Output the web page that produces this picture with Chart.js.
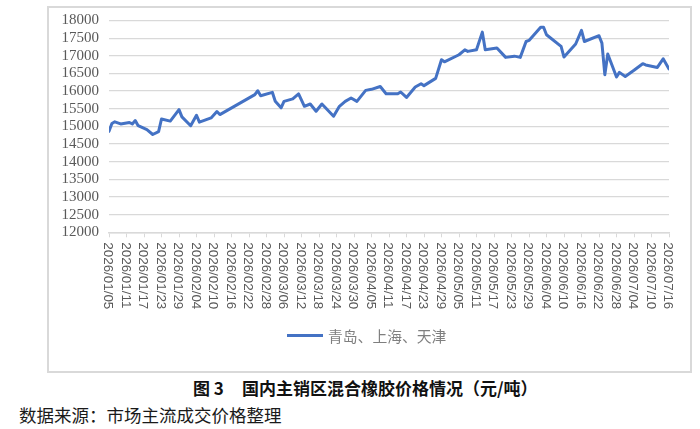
<!DOCTYPE html>
<html>
<head>
<meta charset="utf-8">
<script src="https://cdn.jsdelivr.net/npm/chart.js@4.4.0/dist/chart.umd.min.js"></script>
<style>
  html, body { margin: 0; padding: 0; background: #fff; }
  #wrap { position: relative; width: 700px; height: 429px; overflow: hidden; }
  #box { position: absolute; left: 47px; top: 6px; width: 645px; height: 367px; box-sizing: border-box; border: 2px solid #d9d9d9; }
  #chart { position: absolute; left: 0; top: 0; }
  #legend { position: absolute; left: 287px; top: 324px; height: 22px; display: flex; align-items: center; font-family: "Noto Sans CJK SC", sans-serif; font-size: 14.8px; color: #7f7f7f; white-space: nowrap; }
  #legend .sw { display: inline-block; width: 36px; height: 3px; background: #4472C4; margin-right: 5px; }
  #caption { position: absolute; left: 193px; top: 376px; height: 24px; line-height: 24px; font-family: "Noto Sans CJK SC", sans-serif; font-weight: bold; font-size: 17px; color: #111; white-space: nowrap; }
  #caption .t { position: absolute; left: 49px; top: 0; }
  #source { position: absolute; left: 19px; top: 403px; height: 24px; line-height: 24px; font-family: "Noto Sans CJK SC", sans-serif; font-size: 17.5px; color: #1a1a1a; white-space: nowrap; }
</style>
</head>
<body>
<div id="wrap">
  <div id="box"></div>
  <canvas id="chart" width="700" height="372"></canvas>
  <div id="legend"><span class="sw"></span><span id="legendText"></span></div>
  <div id="caption"><span>图 3</span><span class="t">国内主销区混合橡胶价格情况（元/吨）</span></div>
  <div id="source">数据来源：市场主流成交价格整理</div>
</div>
<script>
const seriesName = '青岛、上海、天津';

const dates = [
  '2026/01/05','2026/01/06','2026/01/07','2026/01/09','2026/01/12','2026/01/13','2026/01/14','2026/01/15',
  '2026/01/18','2026/01/20','2026/01/22','2026/01/23','2026/01/26','2026/01/29','2026/01/30',
  '2026/02/02','2026/02/04','2026/02/05','2026/02/09','2026/02/11','2026/02/12','2026/02/24','2026/02/25','2026/02/26',
  '2026/03/02','2026/03/03','2026/03/05','2026/03/06','2026/03/09','2026/03/11','2026/03/13','2026/03/15','2026/03/17',
  '2026/03/19','2026/03/23','2026/03/25','2026/03/27','2026/03/29','2026/03/31',
  '2026/04/03','2026/04/05','2026/04/08','2026/04/10','2026/04/14','2026/04/15','2026/04/17','2026/04/20','2026/04/22',
  '2026/04/23','2026/04/27','2026/04/29','2026/04/30',
  '2026/05/05','2026/05/07','2026/05/08','2026/05/11','2026/05/13','2026/05/14','2026/05/18','2026/05/21','2026/05/24',
  '2026/05/26','2026/05/28','2026/05/29',
  '2026/06/02','2026/06/03','2026/06/04','2026/06/09','2026/06/10','2026/06/14','2026/06/16','2026/06/17','2026/06/22',
  '2026/06/23','2026/06/24','2026/06/25','2026/06/28','2026/06/29',
  '2026/07/01','2026/07/04','2026/07/07','2026/07/08','2026/07/12','2026/07/14','2026/07/16'
];

const prices = [
  14860,15080,15130,15070,15110,15070,15165,15020,
  14910,14770,14850,15210,15150,15475,15270,
  15020,15315,15120,15240,15420,15335,15900,16010,15870,
  15965,15710,15525,15710,15780,15920,15570,15635,15430,
  15635,15290,15570,15710,15805,15710,
  16020,16050,16130,15925,15925,15975,15820,16115,16210,
  16155,16360,16890,16830,
  17030,17170,17125,17170,17670,17170,17220,16955,16990,
  16955,17405,17435,
  17810,17810,17595,17265,16965,17335,17720,17405,17570,
  17360,16465,17050,16400,16530,
  16415,16590,16775,16740,16670,16915,16625
];

const xTickLabels = [
  '2026/01/05','2026/01/11','2026/01/17','2026/01/23','2026/01/29','2026/02/04','2026/02/10','2026/02/16',
  '2026/02/22','2026/02/28','2026/03/06','2026/03/12','2026/03/18','2026/03/24','2026/03/30','2026/04/05',
  '2026/04/11','2026/04/17','2026/04/23','2026/04/29','2026/05/05','2026/05/11','2026/05/17','2026/05/23',
  '2026/05/29','2026/06/04','2026/06/10','2026/06/16','2026/06/22','2026/06/28','2026/07/04','2026/07/10','2026/07/16'
];

const yMin = 12000, yMax = 18000, yStep = 500;

document.getElementById('legendText').textContent = seriesName;

function dayOf(s) {
  const p = s.split('/').map(Number);
  const b = xTickLabels[0].split('/').map(Number);
  return Math.round((Date.UTC(p[0], p[1] - 1, p[2]) - Date.UTC(b[0], b[1] - 1, b[2])) / 86400000);
}

const points = dates.map((d, i) => ({ x: dayOf(d), y: prices[i] }));

const rotatedXLabels = {
  id: 'rotatedXLabels',
  afterDraw(chart) {
    const sc = chart.scales.x;
    const ctx = chart.ctx;
    ctx.save();
    ctx.font = '13.4px "Liberation Sans", Arial, sans-serif';
    ctx.fillStyle = '#595959';
    ctx.textAlign = 'left';
    ctx.textBaseline = 'middle';
    xTickLabels.forEach(l => {
      const x = sc.getPixelForValue(dayOf(l));
      ctx.save();
      ctx.translate(x - 1, sc.top + 10);
      ctx.rotate(Math.PI / 2);
      ctx.fillText(l, 0, 0);
      ctx.restore();
    });
    ctx.restore();
  }
};

new Chart(document.getElementById('chart'), {
  type: 'line',
  data: {
    datasets: [{
      label: seriesName,
      data: points,
      borderColor: '#4472C4',
      backgroundColor: '#4472C4',
      borderWidth: 3,
      pointRadius: 0,
      tension: 0,
      borderJoinStyle: 'round',
      borderCapStyle: 'round',
      fill: false
    }]
  },
  options: {
    responsive: false,
    animation: false,
    layout: { padding: { left: 0, right: 31, top: 20.5, bottom: 0 } },
    plugins: { legend: { display: false }, tooltip: { enabled: false } },
    scales: {
      x: {
        type: 'linear',
        min: dayOf(xTickLabels[0]),
        max: dayOf(xTickLabels[xTickLabels.length - 1]),
        afterBuildTicks(scale) {
          scale.ticks = xTickLabels.map(l => ({ value: dayOf(l) }));
        },
        afterFit(scale) { scale.height = 139.7; },
        ticks: { display: false },
        grid: { display: true, drawOnChartArea: false, drawTicks: true, tickLength: 5, color: '#d9d9d9', lineWidth: 1 },
        border: { display: true, color: '#d9d9d9', width: 1.5 }
      },
      y: {
        min: yMin,
        max: yMax,
        afterFit(scale) { scale.width = 109; },
        ticks: {
          stepSize: yStep,
          autoSkip: false,
          padding: 10,
          color: '#595959',
          font: { family: '"Liberation Serif", "Times New Roman", serif', size: 15 },
          callback: v => String(v)
        },
        grid: { color: '#d9d9d9', lineWidth: 1.3, drawTicks: false },
        border: { display: false }
      }
    }
  },
  plugins: [rotatedXLabels]
});
</script>
</body>
</html>
